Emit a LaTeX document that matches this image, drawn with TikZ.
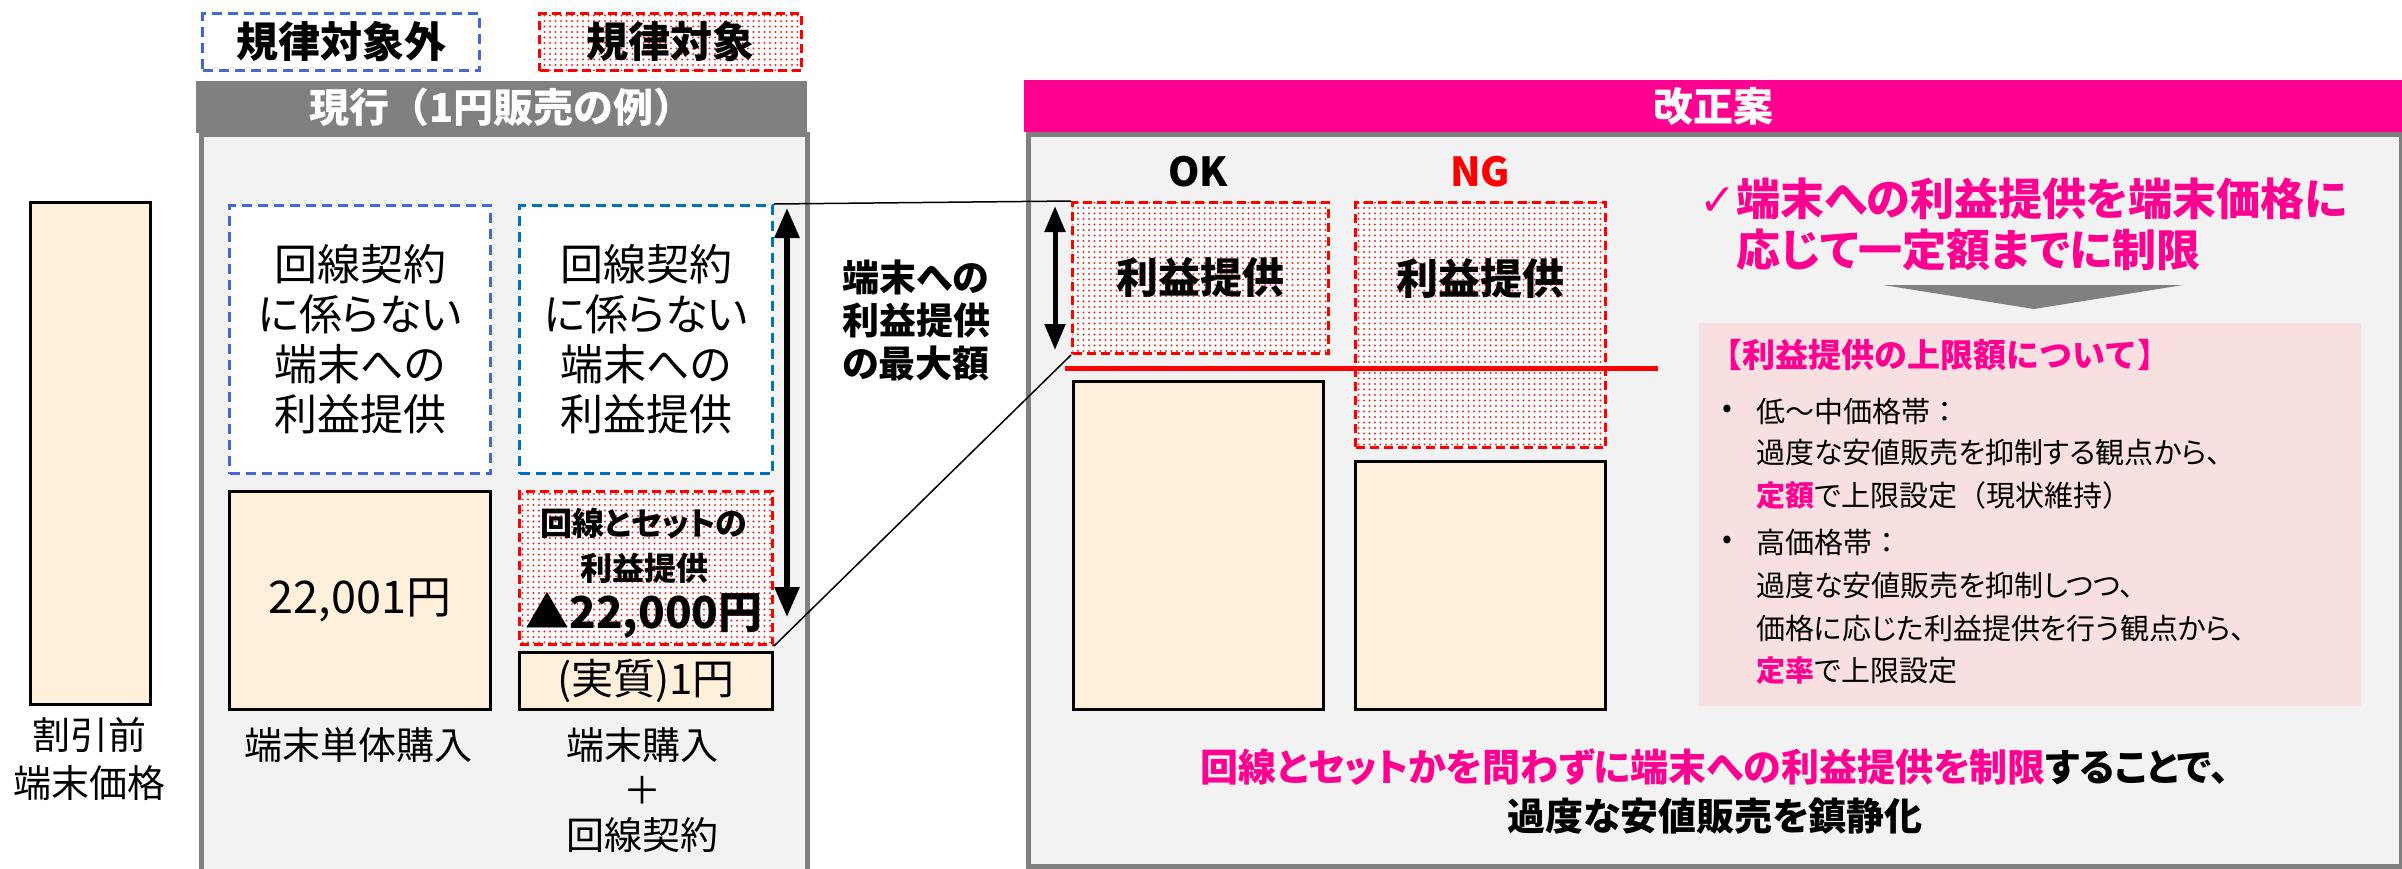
\documentclass[tikz,border=0pt]{standalone}
\usepackage{fontspec}
\setmainfont{Noto Sans CJK JP}[RawFeature=+palt]
\newfontfamily\jpw{Noto Sans CJK JP}
\newfontfamily\dejavu{DejaVu Sans}
\usetikzlibrary{arrows.meta,patterns.meta}
\definecolor{pk}{RGB}{255,0,144}
\definecolor{gr}{RGB}{128,128,128}
\definecolor{pbg}{RGB}{242,242,242}
\definecolor{beige}{RGB}{255,240,220}
\definecolor{bl}{RGB}{68,104,216}
\definecolor{bltwo}{RGB}{0,112,192}
\definecolor{lpk}{RGB}{248,224,224}
\tikzset{
  box/.style={anchor=north west, inner sep=0pt, align=center},
  bluebox/.style={box, draw=bl, line width=3, dash pattern=on 10pt off 6pt, fill=white},
  redbox/.style={box, draw=red, line width=3, dash pattern=on 9pt off 5pt, preaction={fill=white}, pattern={Dots[radius=1.2pt,distance=5.5pt]}, pattern color=red!85},
  beigebox/.style={box, draw=black, line width=3, fill=beige},
  panel/.style={box, draw=gr, line width=5, fill=pbg},
  hdr/.style={box, text=white, font=\jpw\bfseries\fontsize{40}{46}\selectfont},
  dblarrow/.style={line width=6, {Triangle[width=24pt,length=30pt]}-{Triangle[width=24pt,length=30pt]}},
  txt/.style={inner sep=0pt, align=center},
  ltxt/.style={inner sep=0pt, anchor=west, font=\fontsize{29}{35}\selectfont},
}
\begin{document}
\begin{tikzpicture}[x=1pt,y=-1pt]
\useasboundingbox (0,0) rectangle (2402,868);
\fill[white] (0,0) rectangle (2402,868);
% legend
\node[bluebox, minimum width=277, minimum height=57, font=\bfseries\fontsize{42}{48}\selectfont] (lg1) at (201,12) {規律対象外};
\node[redbox, minimum width=262, minimum height=57, font=\bfseries\fontsize{42}{48}\selectfont] (lg2) at (538,12) {規律対象};
% left panel
\node[panel, minimum width=606, minimum height=760] (lp) at (199,132) {};
\node[hdr, fill=gr, minimum width=611, minimum height=52] (lh) at (196,81) {現行（1円販売の例）};
% left bar
\node[beigebox, minimum width=120, minimum height=502] (bar) at (29,201) {};
\node[txt, font=\fontsize{38}{48}\selectfont] (barl) at (89,759) {割引前\\端末価格};
% columns
\node[bluebox, minimum width=261, minimum height=268, font=\fontsize{43}{50}\selectfont] (b1) at (228,204) {回線契約\\に係らない\\端末への\\利益提供};
\node[bluebox, draw=bltwo, minimum width=253, minimum height=268, font=\fontsize{43}{50}\selectfont] (b2) at (518,204) {回線契約\\に係らない\\端末への\\利益提供};
\node[beigebox, minimum width=261, minimum height=218, font=\fontsize{45}{50}\selectfont] (p1) at (228,490) {22,001円};
\node[redbox, minimum width=253, minimum height=153] (rd) at (518,490) {};
\node[txt, font=\bfseries\fontsize{32}{38}\selectfont] (rdt1) at (644,523) {回線とセットの};
\node[txt, font=\bfseries\fontsize{32}{38}\selectfont] (rdt2) at (644,568) {利益提供};
\node[txt, font=\bfseries\fontsize{44}{50}\selectfont] (rdt3) at (644,615) {▲22,000円};
\node[beigebox, minimum width=253, minimum height=57, font=\fontsize{42}{46}\selectfont] (p2) at (518,651) {(実質)1円};
\node[txt, font=\fontsize{38}{46}\selectfont] (l1) at (358,745) {端末単体購入};
\node[txt, font=\fontsize{38}{45}\selectfont] (l2) at (642,790) {端末購入\\＋\\回線契約};
% arrow and label
\coordinate (a1t) at (787,208);
\coordinate (a1b) at (787,617);
\draw[dblarrow] (a1t) -- (a1b);
\node[txt, font=\bfseries\fontsize{37}{43}\selectfont] (maxl) at (916,320) {端末への\\利益提供\\の最大額};
% right panel
\node[panel, minimum width=1373, minimum height=732] (rp) at (1026,132) {};
\node[hdr, fill=pk, minimum width=1378, minimum height=52] (rh) at (1024,80) {改正案};
\node[txt, font=\bfseries\fontsize{40}{44}\selectfont] (okl) at (1198,172) {OK};
\node[txt, text=red, font=\bfseries\fontsize{40}{44}\selectfont] (ngl) at (1480,172) {NG};
\node[redbox, minimum width=256, minimum height=151, font=\bfseries\fontsize{42}{48}\selectfont] (ok) at (1071,201) {利益提供};
\node[redbox, minimum width=250, minimum height=245] (ng) at (1354,201) {};
\node[txt, font=\bfseries\fontsize{42}{48}\selectfont] (ngt) at (1480,279) {利益提供};
\node[beigebox, minimum width=250, minimum height=328] (okb) at (1072,380) {};
\node[beigebox, minimum width=250, minimum height=248] (ngb) at (1354,460) {};
\coordinate (a2t) at (1055,206);
\coordinate (a2b) at (1055,350);
\draw[line width=5, {Triangle[width=20pt,length=26pt]}-{Triangle[width=20pt,length=26pt]}] (a2t) -- (a2b);
\coordinate (rl1) at (1065,368);
\coordinate (rl2) at (1658,368);
\draw[red, line width=5] (rl1) -- (rl2);
% connectors
\draw[line width=1.5] (b2.north east) -- (ok.north west);
\draw[line width=1.5] (rd.south east) -- (ok.south west);
% check text
\node[inner sep=0pt, anchor=west, text=pk, font=\bfseries\fontsize{44}{50}\selectfont] (ck1) at (1699,199) {{\dejavu\mdseries ✓}端末への利益提供を端末価格に};
\node[inner sep=0pt, anchor=west, text=pk, font=\bfseries\fontsize{44}{50}\selectfont] (ck2) at (1736,250) {応じて一定額までに制限};
\fill[gr] (1883,285) -- (2183,285) -- (2034,309) -- cycle;
% pink box
\node[box, fill=lpk, minimum width=662, minimum height=383] (pb) at (1699,323) {};
\node[ltxt, text=pk, font=\jpw\bfseries\fontsize{33}{38}\selectfont] (pt0) at (1709,355) {【利益提供の上限額について】};
\node[ltxt] (bu1) at (1722,411) {•};
\node[ltxt, font=\jpw\fontsize{29}{35}\selectfont] (pt1) at (1756,411) {低～中価格帯：};
\node[ltxt] (pt2) at (1756,453) {過度な安値販売を抑制する観点から、};
\node[ltxt] (pt3) at (1756,496) {{\color{pk}\bfseries 定額}で上限設定{\jpw （現状維持）}};
\node[ltxt] (bu2) at (1722,542) {•};
\node[ltxt, font=\jpw\fontsize{29}{35}\selectfont] (pt4) at (1756,542) {高価格帯：};
\node[ltxt] (pt5) at (1756,585) {過度な安値販売を抑制しつつ、};
\node[ltxt] (pt6) at (1756,628) {価格に応じた利益提供を行う観点から、};
\node[ltxt] (pt7) at (1756,671) {{\color{pk}\bfseries 定率}で上限設定};
% bottom text
\node[txt, font=\bfseries\fontsize{38}{44}\selectfont] (bt1) at (1715,767) {{\color{pk}回線とセットかを問わずに端末への利益提供を制限}することで、};
\node[txt, font=\bfseries\fontsize{38}{44}\selectfont] (bt2) at (1715,816) {過度な安値販売を鎮静化};
\end{tikzpicture}
\end{document}
